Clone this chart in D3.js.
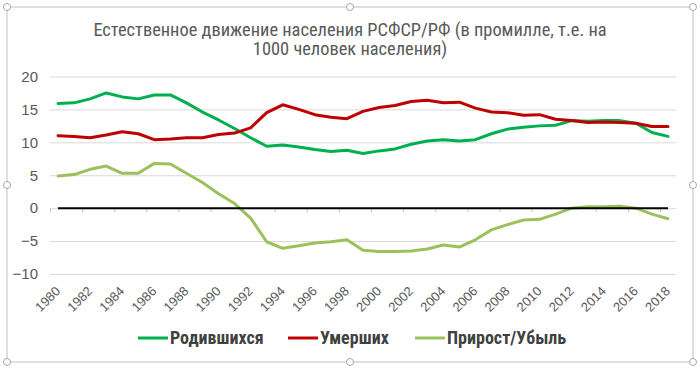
<!DOCTYPE html>
<html>
<head>
<meta charset="utf-8">
<script src="https://cdn.jsdelivr.net/npm/d3@7"></script>
<style>
  body { margin: 0; background: #fff; }
  svg { display: block; }
</style>
</head>
<body>
<svg id="chart" width="700" height="368"></svg>
<script>
// ---- données ----
const years = d3.range(1980, 2019)
const births = [15.9, 16.0, 16.6, 17.5, 16.9, 16.6, 17.2, 17.2, 16.0, 14.6,
                13.4, 12.1, 10.7, 9.4, 9.6, 9.3, 8.9, 8.6, 8.8, 8.3,
                8.7, 9.0, 9.7, 10.2, 10.4, 10.2, 10.4, 11.3, 12.0, 12.3,
                12.5, 12.6, 13.3, 13.2, 13.3, 13.3, 12.9, 11.5, 10.9]
const deaths = [11.0, 10.9, 10.7, 11.1, 11.6, 11.3, 10.4, 10.5, 10.7, 10.7,
                11.2, 11.4, 12.2, 14.5, 15.7, 15.0, 14.2, 13.8, 13.6, 14.7,
                15.3, 15.6, 16.2, 16.4, 16.0, 16.1, 15.2, 14.6, 14.5, 14.1,
                14.2, 13.5, 13.3, 13.0, 13.1, 13.0, 12.9, 12.4, 12.4]
const growth = [4.9, 5.1, 5.9, 6.4, 5.3, 5.3, 6.8, 6.7, 5.3, 3.9,
                2.2, 0.7, -1.5, -5.1, -6.1, -5.7, -5.3, -5.1, -4.8, -6.4,
                -6.6, -6.6, -6.5, -6.2, -5.6, -5.9, -4.8, -3.3, -2.5, -1.8,
                -1.7, -0.9, 0.0, 0.2, 0.2, 0.3, 0.0, -0.9, -1.6]
const zero = years.map(() => 0)
const yTicks = [-10, -5, 0, 5, 10, 15, 20]
const xLabels = years.filter((d, i) => i % 2 == 0)
const seriesNames = ["Родившихся", "Умерших", "Прирост/Убыль"]
const seriesColors = ["#00B050", "#C00000", "#9BC25A"]
const titleLines = ["Естественное движение населения РСФСР/РФ (в промилле, т.е. на",
                    "1000 человек населения)"]

const svg = d3.select("#chart")
const grey = "#595959"

// ---- cadre (sélection Excel) ----
svg.append("rect")
    .attr("x", 7).attr("y", 7).attr("width", 686).attr("height", 355)
    .attr("fill", "none").attr("stroke", "#BFBFBF").attr("stroke-width", 1)

// ---- échelles ----
const x = d3.scaleLinear().domain([1979.5, 2018.5]).range([50, 676])
const y = d3.scaleLinear().domain([-10, 20]).range([274, 76.5])

// grille
svg.append("g")
    .attr("transform", "translate(50,0)")
    .call(d3.axisLeft(y).tickValues(yTicks).tickSize(-626).tickFormat(""))
    .call(g => g.select(".domain").remove())
    .call(g => g.selectAll("line").attr("stroke", "#D9D9D9").attr("stroke-width", 1))

// étiquettes Y
svg.append("g")
    .attr("transform", "translate(38,0)")
    .call(d3.axisLeft(y).tickValues(yTicks).tickSize(0).tickPadding(0))
    .call(g => g.select(".domain").remove())
    .call(g => g.selectAll("text")
        .attr("fill", grey)
        .attr("font-family", "'Liberation Sans', Arial, sans-serif")
        .attr("font-size", 15))

// graduations sur l'axe 0
const tickPos = d3.range(0, 39, 2).map(i => 1979.5 + i)
svg.append("g")
    .attr("transform", "translate(0," + y(0) + ")")
    .call(d3.axisBottom(x).tickValues(tickPos).tickSize(4).tickFormat(""))
    .call(g => g.select(".domain").remove())
    .call(g => g.selectAll("line").attr("stroke", "#BFBFBF"))

// étiquettes X (en bas, inclinées)
svg.append("g")
    .selectAll("text")
    .data(xLabels)
    .join("text")
    .attr("transform", d => "translate(" + (x(d) + 3) + ",292) rotate(-45)")
    .attr("text-anchor", "end")
    .attr("fill", grey)
    .attr("font-family", "'Liberation Sans', Arial, sans-serif")
    .attr("font-size", 13)
    .text(d => d)

// ---- courbes ----
const line = d3.line().x((d, i) => x(years[i])).y(d => y(d))
const allSeries = [births, deaths, growth]
allSeries.forEach((s, k) => {
    svg.append("path")
        .attr("d", line(s))
        .attr("fill", "none")
        .attr("stroke", seriesColors[k])
        .attr("stroke-width", 3)
        .attr("stroke-linejoin", "round")
        .attr("stroke-linecap", "round")
})
svg.append("path")
    .attr("d", line(zero))
    .attr("fill", "none")
    .attr("stroke", "#000")
    .attr("stroke-width", 2)

// ---- titre ----
svg.append("g")
    .selectAll("text")
    .data(titleLines)
    .join("text")
    .attr("x", 350)
    .attr("y", (d, i) => 36 + i * 19)
    .attr("text-anchor", "middle")
    .attr("fill", grey)
    .attr("font-family", "'Liberation Sans Narrow', 'Roboto Condensed', 'Liberation Sans', sans-serif")
    .attr("font-size", 18.4)
    .text(d => d)

// ---- légende ----
const legX = [138, 288, 415]
const leg = svg.append("g")
    .selectAll("g")
    .data(seriesNames)
    .join("g")
    .attr("transform", (d, i) => "translate(" + legX[i] + ",338)")
leg.append("line")
    .attr("x1", 0).attr("x2", 30)
    .attr("stroke", (d, i) => seriesColors[i])
    .attr("stroke-width", 3)
leg.append("text")
    .attr("x", 32)
    .attr("dy", "0.35em")
    .attr("fill", "#404040")
    .attr("font-family", "'Liberation Sans Narrow', 'Roboto Condensed', 'Liberation Sans', sans-serif")
    .attr("font-weight", "bold")
    .attr("font-size", 18)
    .text(d => d)

// ---- poignées ----
const handles = [[7, 7], [350, 7], [693, 7], [7, 185], [693, 185], [7, 362], [350, 362], [693, 362]]
svg.append("g")
    .selectAll("circle")
    .data(handles)
    .join("circle")
    .attr("cx", d => d[0]).attr("cy", d => d[1]).attr("r", 3.5)
    .attr("fill", "#fff").attr("stroke", "#A6A6A6").attr("stroke-width", 1)
</script>
</body>
</html>
